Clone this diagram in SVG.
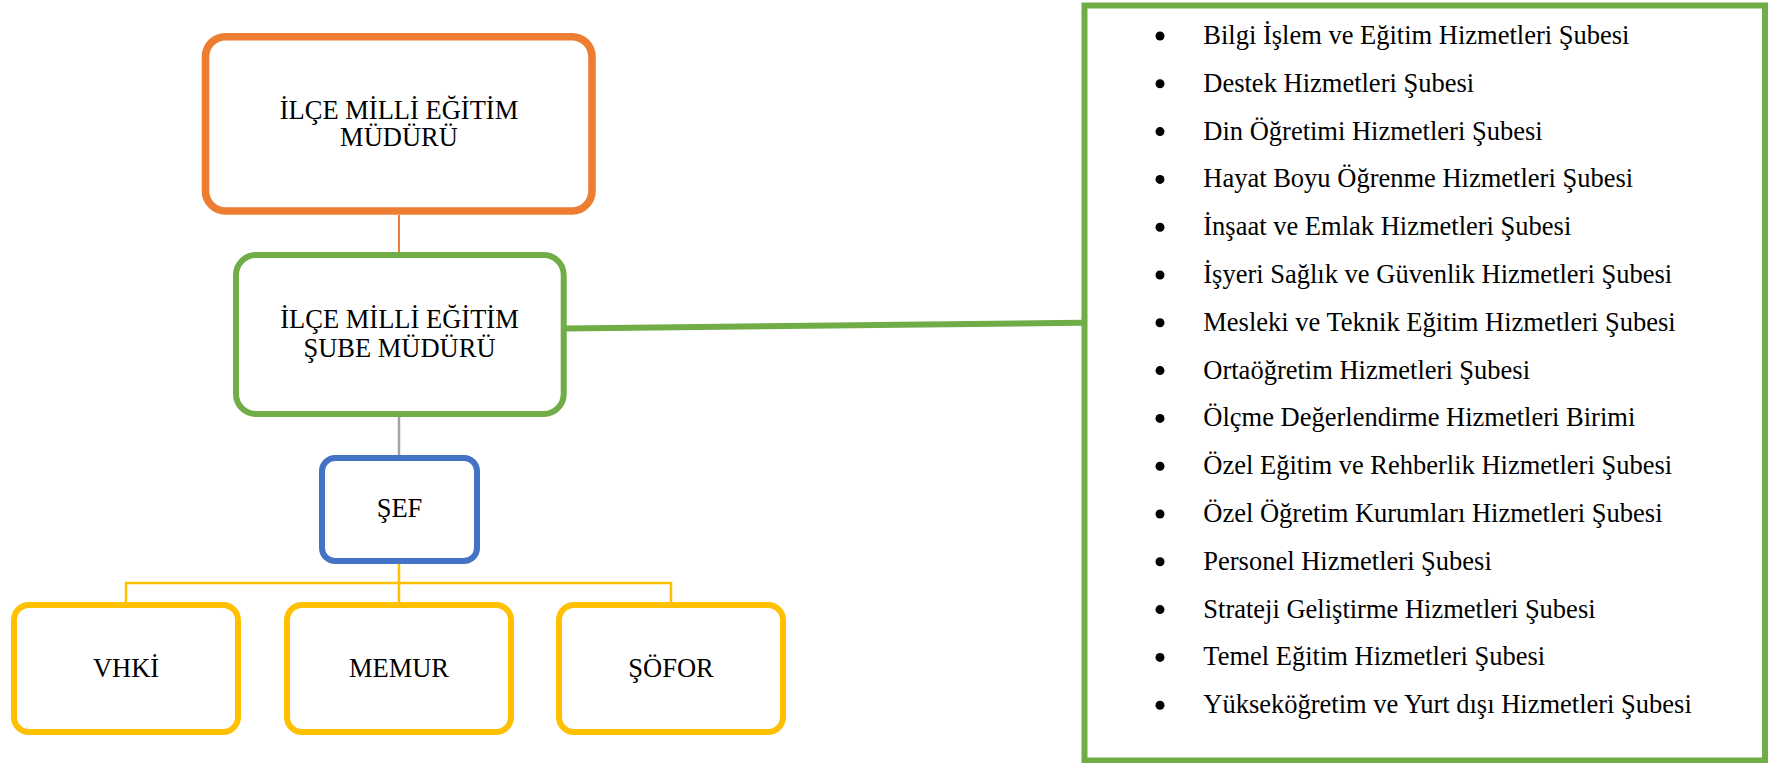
<svg xmlns="http://www.w3.org/2000/svg" width="1771" height="763" viewBox="0 0 1771 763">
<style>
  text { font-family: "Liberation Serif", "Times New Roman", serif; font-size: 26.5px; fill: #000; }
  .c { text-anchor: middle; }
  .box { fill: #fff; }
  .orange { stroke: #ED7D31; stroke-width: 7.6; }
  .green { stroke: #70AD47; stroke-width: 6; }
  .blue { stroke: #4472C4; stroke-width: 6; }
  .yellow { stroke: #FFC000; stroke-width: 6; }
  .conn { fill: none; }
</style>
<rect width="1771" height="763" fill="#fff"/>
<g id="connectors" class="conn">
  <line x1="399" y1="215" x2="399" y2="252" stroke="#ED7D31" stroke-width="2"/>
  <line x1="399" y1="417" x2="399" y2="455" stroke="#A5A5A5" stroke-width="2.5"/>
  <path d="M399 564 V583 M126 602 V583 H671 V602 M399 583 V602" stroke="#FFC000" stroke-width="2.5"/>
  <line x1="566" y1="328.5" x2="1082" y2="322.8" stroke="#70AD47" stroke-width="6"/>
</g>
<g id="node-ilce-mudur">
  <rect class="box orange" x="205.5" y="36.7" width="386.5" height="174.3" rx="20"/>
  <text class="c" x="399" y="119.3">İLÇE MİLLİ EĞİTİM</text>
  <text class="c" x="399" y="146">MÜDÜRÜ</text>
</g>
<g id="node-sube-mudur">
  <rect class="box green" x="236" y="255" width="327.7" height="159" rx="20"/>
  <text class="c" x="399.5" y="328.3">İLÇE MİLLİ EĞİTİM</text>
  <text class="c" x="399.5" y="356.7">ŞUBE MÜDÜRÜ</text>
</g>
<g id="node-sef">
  <rect class="box blue" x="322" y="458" width="155" height="103" rx="13"/>
  <text class="c" x="399.5" y="517">ŞEF</text>
</g>
<g id="node-vhki">
  <rect class="box yellow" x="14" y="605" width="224" height="127" rx="15"/>
  <text class="c" x="126" y="677">VHKİ</text>
</g>
<g id="node-memur">
  <rect class="box yellow" x="287" y="605" width="224" height="127" rx="15"/>
  <text class="c" x="399" y="677">MEMUR</text>
</g>
<g id="node-sofor">
  <rect class="box yellow" x="559" y="605" width="224" height="127" rx="15"/>
  <text class="c" x="671" y="677">ŞÖFOR</text>
</g>
<g id="node-subeler">
  <rect class="box green" x="1084.5" y="5.5" width="680.5" height="755"/>
  <g fill="#000">
    <circle cx="1160" cy="36" r="4.5"/>
    <circle cx="1160" cy="83.8" r="4.5"/>
    <circle cx="1160" cy="131.6" r="4.5"/>
    <circle cx="1160" cy="179.4" r="4.5"/>
    <circle cx="1160" cy="227.2" r="4.5"/>
    <circle cx="1160" cy="275" r="4.5"/>
    <circle cx="1160" cy="322.8" r="4.5"/>
    <circle cx="1160" cy="370.6" r="4.5"/>
    <circle cx="1160" cy="418.4" r="4.5"/>
    <circle cx="1160" cy="466.2" r="4.5"/>
    <circle cx="1160" cy="514" r="4.5"/>
    <circle cx="1160" cy="561.8" r="4.5"/>
    <circle cx="1160" cy="609.6" r="4.5"/>
    <circle cx="1160" cy="657.4" r="4.5"/>
    <circle cx="1160" cy="705.2" r="4.5"/>
  </g>
  <text x="1203.3" y="44">Bilgi İşlem ve Eğitim Hizmetleri Şubesi</text>
  <text x="1203.3" y="91.8">Destek Hizmetleri Şubesi</text>
  <text x="1203.3" y="139.6">Din Öğretimi Hizmetleri Şubesi</text>
  <text x="1203.3" y="187.4">Hayat Boyu Öğrenme Hizmetleri Şubesi</text>
  <text x="1203.3" y="235.2">İnşaat ve Emlak Hizmetleri Şubesi</text>
  <text x="1203.3" y="283">İşyeri Sağlık ve Güvenlik Hizmetleri Şubesi</text>
  <text x="1203.3" y="330.8">Mesleki ve Teknik Eğitim Hizmetleri Şubesi</text>
  <text x="1203.3" y="378.6">Ortaöğretim Hizmetleri Şubesi</text>
  <text x="1203.3" y="426.4">Ölçme Değerlendirme Hizmetleri Birimi</text>
  <text x="1203.3" y="474.2">Özel Eğitim ve Rehberlik Hizmetleri Şubesi</text>
  <text x="1203.3" y="522">Özel Öğretim Kurumları Hizmetleri Şubesi</text>
  <text x="1203.3" y="569.8">Personel Hizmetleri Şubesi</text>
  <text x="1203.3" y="617.6">Strateji Geliştirme Hizmetleri Şubesi</text>
  <text x="1203.3" y="665.4">Temel Eğitim Hizmetleri Şubesi</text>
  <text x="1203.3" y="713.2">Yükseköğretim ve Yurt dışı Hizmetleri Şubesi</text>
</g>
</svg>
